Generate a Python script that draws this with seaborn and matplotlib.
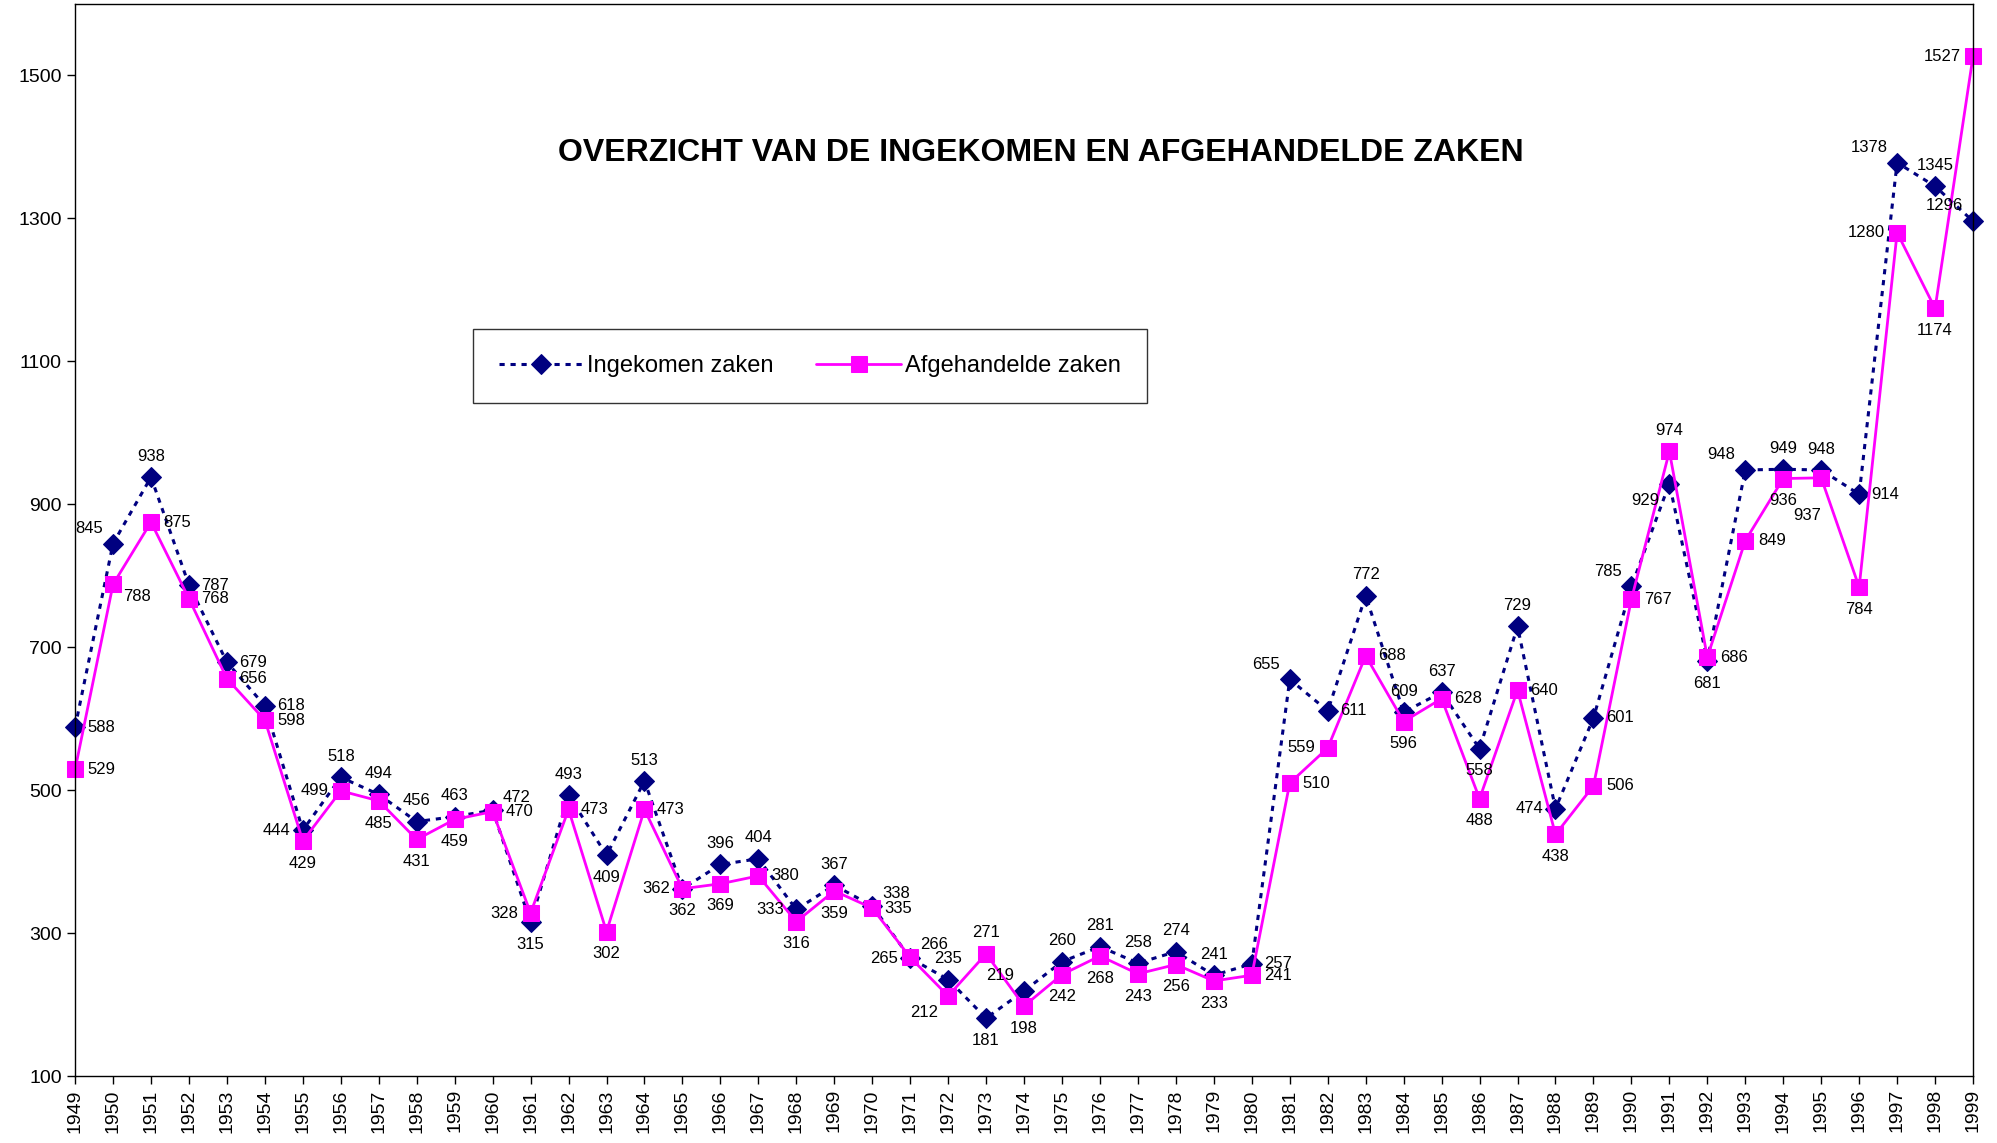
import matplotlib
matplotlib.use("Agg")
import matplotlib.pyplot as plt
import seaborn as sns

# jaren en aantallen zaken
jaren = list(range(1949, 2000))

ingekomen = [588, 845, 938, 787, 679, 618, 444, 518, 494, 456,
             463, 472, 315, 493, 409, 513, 362, 396, 404, 333,
             367, 338, 265, 235, 181, 219, 260, 281, 258, 274,
             241, 257, 655, 611, 772, 609, 637, 558, 729, 474,
             601, 785, 929, 681, 948, 949, 948, 914, 1378, 1345, 1296]

afgehandeld = [529, 788, 875, 768, 656, 598, 429, 499, 485, 431,
               459, 470, 328, 473, 302, 473, 362, 369, 380, 316,
               359, 335, 266, 212, 271, 198, 242, 268, 243, 256,
               233, 241, 510, 559, 688, 596, 628, 488, 640, 438,
               506, 767, 974, 686, 849, 936, 937, 784, 1280, 1174, 1527]

titel = "OVERZICHT VAN DE INGEKOMEN EN AFGEHANDELDE ZAKEN"
naam_in = "Ingekomen zaken"
naam_af = "Afgehandelde zaken"

# plaats van de waardelabels (r=rechts, l=links, a=boven, b=onder, ...)
pos_in = ["r", "ul", "a", "r", "r", "r", "l", "a", "a", "a",
          "a", "ar", "b", "a", "b", "a", "l", "a", "a", "l",
          "a", "ar", "l", "a", "b", "ul", "a", "a", "a", "a",
          "a", "r", "ul", "r", "a", "a", "a", "b", "a", "l",
          "r", "ul", "bl", "b", "ul", "a", "a", "r", "ul", "a", "ul"]
pos_af = ["r", "br", "r", "r", "r", "r", "b", "l", "b", "b",
          "b", "r", "l", "r", "b", "r", "b", "b", "r", "b",
          "b", "r", "ar", "bl", "a", "b", "b", "b", "b", "b",
          "b", "r", "r", "l", "r", "b", "r", "b", "r", "b",
          "r", "r", "a", "r", "r", "b", "bb", "b", "l", "b", "l"]

offsets = {
    "r": (9, 0, "left", "center"),
    "l": (-9, 0, "right", "center"),
    "a": (0, 15, "center", "center"),
    "b": (0, -16, "center", "center"),
    "bb": (-10, -27, "center", "center"),
    "ul": (-7, 11, "right", "center"),
    "ar": (7, 9, "left", "center"),
    "br": (7, -9, "left", "center"),
    "bl": (-7, -12, "right", "center"),
}

sns.set_style("white")
plt.rcParams["font.family"] = ["Liberation Sans", "DejaVu Sans"]
plt.rcParams["text.color"] = "black"
plt.rcParams["xtick.color"] = "black"
plt.rcParams["ytick.color"] = "black"

fig = plt.figure(figsize=(19.97, 11.43), dpi=100)
ax = fig.add_axes([0.0376, 0.0586, 0.9504, 0.9379])

sns.lineplot(x=jaren, y=ingekomen, ax=ax, color="#000080", marker="D",
             markersize=10, mec="#000080", mfc="#000080", lw=2.2,
             linestyle=(0, (1.7, 1.9)), label=naam_in, clip_on=False)
sns.lineplot(x=jaren, y=afgehandeld, ax=ax, color="#FF00FF", marker="s",
             markersize=11, mec="#FF00FF", mfc="#FF00FF", lw=2,
             label=naam_af, clip_on=False)

for reeks, posities in [(ingekomen, pos_in), (afgehandeld, pos_af)]:
    for j, v, p in zip(jaren, reeks, posities):
        dx, dy, ha, va = offsets[p]
        ax.annotate(str(v), (j, v), xytext=(dx, dy), textcoords="offset points",
                    ha=ha, va=va, fontsize=12, color="black")

ax.set_xlim(1949, 1999)
ax.set_ylim(100, 1600)
ax.set_xticks(jaren)
ax.set_xticklabels([str(j) for j in jaren], rotation=90, fontsize=14)
ax.set_yticks(range(100, 1600, 200))
ax.tick_params(axis="y", labelsize=14)
ax.tick_params(direction="out", length=6, width=1, color="black", left=True, bottom=True)
for s in ax.spines.values():
    s.set_color("black")
    s.set_linewidth(1)
ax.set_xlabel("")
ax.set_ylabel("")

ax.text(0.509, 0.861, titel, transform=ax.transAxes, ha="center", va="center",
        fontsize=23, fontweight="bold", color="black")

leg = ax.legend(loc="center", bbox_to_anchor=(0.387, 0.662), ncol=2,
                fontsize=17, frameon=True, fancybox=False,
                handlelength=3.6, handletextpad=0.15, columnspacing=1.8,
                borderpad=1.1, borderaxespad=0)
leg.get_frame().set_edgecolor("black")
leg.get_frame().set_linewidth(1)
for t in leg.get_texts():
    t.set_color("black")

fig.savefig("out.png", dpi=100)
